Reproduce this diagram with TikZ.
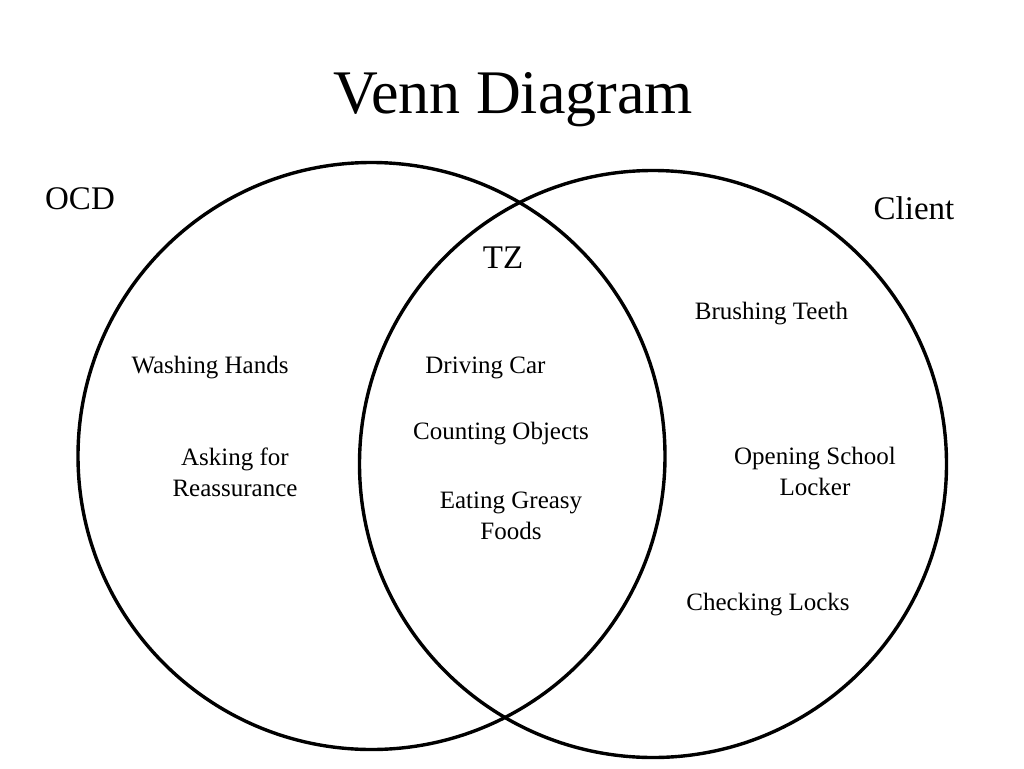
\documentclass[tikz,border=0pt]{standalone}
\usepackage{fontspec}
\setmainfont{Liberation Serif}
\begin{document}
\begin{tikzpicture}[x=1pt,y=-1pt,
  vennset/.style={circle,draw=black,line width=3.4pt,inner sep=0pt,minimum size=587pt},
  item/.style={anchor=base,inner sep=0pt,align=center,font=\fontsize{25}{31}\selectfont},
  setlabel/.style={anchor=base,inner sep=0pt,font=\fontsize{33}{40}\selectfont},
  titlestyle/.style={anchor=base,inner sep=0pt,font=\fontsize{62}{72}\selectfont}]
\useasboundingbox (0,0) rectangle (1024,768);
\fill[white] (0,0) rectangle (1024,768);
\node[titlestyle] (title) at (513,113) {Venn Diagram};
\node[vennset] (ocdset) at (371.5,456) {};
\node[vennset] (clientset) at (653,464) {};
\node[setlabel] (ocd) at (80,209) {OCD};
\node[setlabel] (client) at (914,219) {Client};
\node[setlabel] (tz) at (503,268) {TZ};
\node[item] (wash) at (210,373) {Washing Hands};
\node[item] (ask) at (235,496) {Asking for\\Reassurance};
\node[item] (drive) at (485.5,373) {Driving Car};
\node[item] (count) at (501,439) {Counting Objects};
\node[item] (eat) at (511,539) {Eating Greasy\\Foods};
\node[item] (brush) at (771.5,319) {Brushing Teeth};
\node[item] (locker) at (815,495) {Opening School\\Locker};
\node[item] (check) at (768,610) {Checking Locks};
\end{tikzpicture}
\end{document}
